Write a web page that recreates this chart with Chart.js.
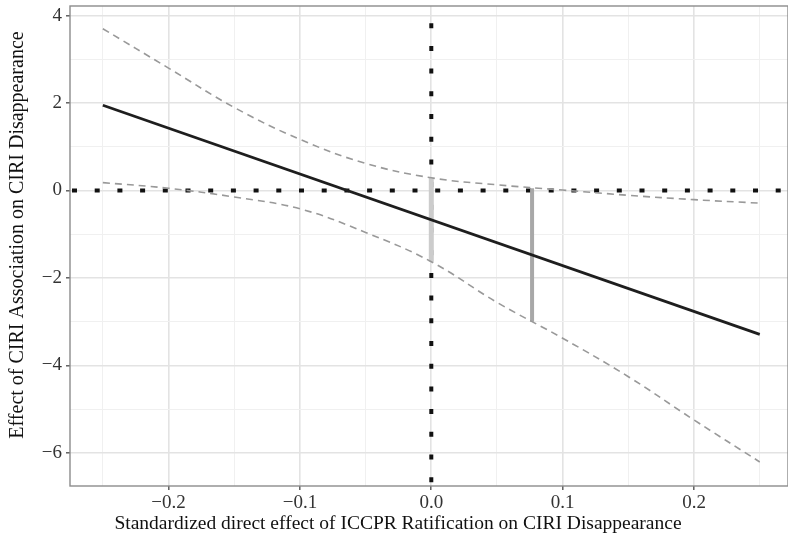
<!DOCTYPE html>
<html>
<head>
<meta charset="utf-8">
<script src="https://cdn.jsdelivr.net/npm/chart.js@4.4.1/dist/chart.umd.min.js"></script>
<style>
  html, body { margin: 0; padding: 0; background: #fff; }
  #wrap { width: 788px; height: 541px; }
</style>
</head>
<body>
<div id="wrap"><canvas id="chart" width="788" height="541"></canvas></div>
<script>
// axis ranges
const xMin = -0.275, xMax = 0.2715;
const yMin = -6.76, yMax = 4.22;

// gridlines (major + minor) and labelled ticks
const xGrid = [-0.25, -0.2, -0.15, -0.1, -0.05, 0, 0.05, 0.1, 0.15, 0.2, 0.25];
const xMajor = [-0.2, -0.1, 0, 0.1, 0.2];
const xMajorLabels = ['\u22120.2', '\u22120.1', '0.0', '0.1', '0.2'];
const yGrid = [-6, -5, -4, -3, -2, -1, 0, 1, 2, 3, 4];
const yMajor = [-6, -4, -2, 0, 2, 4];
const yMajorLabels = ['\u22126', '\u22124', '\u22122', '0', '2', '4'];

// estimated effect (straight line)
const meanX = [-0.25, 0.25];
const meanY = [1.95, -3.29];

// confidence band
const ciX = [-0.25, -0.2, -0.15, -0.1, -0.05, 0, 0.05, 0.1, 0.15, 0.2, 0.25];
const ciUpper = [3.70, 2.80, 1.90, 1.17, 0.62, 0.29, 0.13, 0.01, -0.11, -0.21, -0.29];
const ciLower = [0.18, 0.05, -0.15, -0.42, -0.96, -1.63, -2.56, -3.38, -4.26, -5.25, -6.21];

// vertical gray markers
const seg1X = 0, seg1Y = [0.29, -1.63];
const seg2X = 0.0767, seg2Y = [0.05, -3.0];

const xTitle = 'Standardized direct effect of ICCPR Ratification on CIRI Disappearance';
const yTitle = 'Effect of CIRI Association on CIRI Disappearance';

const serif = '"Liberation Serif", "DejaVu Serif", serif';

function near(a, b) { return Math.abs(a - b) < 1e-9; }
function isMajor(list, v) { return list.some(m => near(m, v)); }
function toPoints(xs, ys) { return xs.map((x, i) => ({ x: x, y: ys[i] })); }

// 패널 테두리와 축 제목
const framePlugin = {
  id: 'frame',
  afterDatasetsDraw(chart) {
    const { ctx, chartArea } = chart;
    ctx.save();
    ctx.strokeStyle = '#8c8c8c';
    ctx.lineWidth = 1.4;
    ctx.strokeRect(chartArea.left, chartArea.top, chartArea.right - chartArea.left, chartArea.bottom - chartArea.top);
    ctx.restore();
  },
  afterDraw(chart) {
    const { ctx } = chart;
    ctx.save();
    ctx.fillStyle = '#111';
    ctx.textAlign = 'center';
    ctx.textBaseline = 'middle';
    ctx.font = '19.5px ' + serif;
    ctx.fillText(xTitle, 398, 524);
    ctx.font = '20px ' + serif;
    ctx.translate(18, 235);
    ctx.rotate(-Math.PI / 2);
    ctx.fillText(yTitle, 0, 0);
    ctx.restore();
  }
};

const ctx = document.getElementById('chart').getContext('2d');
new Chart(ctx, {
  type: 'scatter',
  data: {
    datasets: [
      {
        data: toPoints(meanX, meanY),
        showLine: true,
        borderColor: '#1e1e1e',
        borderWidth: 2.8,
        pointRadius: 0
      },
      {
        data: toPoints(ciX, ciUpper),
        showLine: true,
        borderColor: '#999999',
        borderWidth: 1.6,
        borderDash: [7, 5],
        tension: 0.4,
        pointRadius: 0
      },
      {
        data: toPoints(ciX, ciLower),
        showLine: true,
        borderColor: '#999999',
        borderWidth: 1.6,
        borderDash: [7, 5],
        tension: 0.4,
        pointRadius: 0
      },
      {
        data: seg1Y.map(y => ({ x: seg1X, y: y })),
        showLine: true,
        borderColor: '#cccccc',
        borderWidth: 5,
        pointRadius: 0
      },
      {
        data: seg2Y.map(y => ({ x: seg2X, y: y })),
        showLine: true,
        borderColor: '#a8a8a8',
        borderWidth: 4,
        pointRadius: 0
      },
      {
        // 기준선 y = 0
        data: [{ x: xMin, y: 0 }, { x: xMax, y: 0 }],
        showLine: true,
        borderColor: '#111',
        borderWidth: 4,
        borderDash: [5, 17.7],
        borderDashOffset: -2,
        pointRadius: 0
      },
      {
        // 기준선 x = 0
        data: [{ x: 0, y: yMax }, { x: 0, y: yMin }],
        showLine: true,
        borderColor: '#111',
        borderWidth: 4,
        borderDash: [5, 17.7],
        borderDashOffset: 5.5,
        pointRadius: 0
      }
    ]
  },
  options: {
    responsive: false,
    animation: false,
    layout: { padding: { top: 6, right: 0, left: 0, bottom: 0 } },
    plugins: {
      legend: { display: false },
      tooltip: { enabled: false }
    },
    scales: {
      x: {
        type: 'linear',
        min: xMin,
        max: xMax,
        afterBuildTicks: s => { s.ticks = xGrid.map(v => ({ value: v })); },
        afterFit: s => { s.height = 55; s.paddingLeft = 0; s.paddingRight = 0; },
        border: { display: false },
        grid: {
          color: c => isMajor(xMajor, c.tick.value) ? '#e3e3e3' : '#f0f0f0',
          lineWidth: c => isMajor(xMajor, c.tick.value) ? 1.6 : 1,
          tickColor: c => isMajor(xMajor, c.tick.value) ? '#555' : 'rgba(0,0,0,0)',
          tickLength: 4,
          tickWidth: 1.4
        },
        ticks: {
          autoSkip: false,
          maxRotation: 0,
          padding: 2,
          color: '#333',
          font: { family: serif, size: 19 },
          callback: v => {
            const i = xMajor.findIndex(m => near(m, v));
            return i >= 0 ? xMajorLabels[i] : '';
          }
        }
      },
      y: {
        type: 'linear',
        min: yMin,
        max: yMax,
        afterBuildTicks: s => { s.ticks = yGrid.map(v => ({ value: v })); },
        afterFit: s => { s.width = 70; s.paddingTop = 0; s.paddingBottom = 0; },
        border: { display: false },
        grid: {
          color: c => isMajor(yMajor, c.tick.value) ? '#e3e3e3' : '#f0f0f0',
          lineWidth: c => isMajor(yMajor, c.tick.value) ? 1.6 : 1,
          tickColor: c => isMajor(yMajor, c.tick.value) ? '#555' : 'rgba(0,0,0,0)',
          tickLength: 4,
          tickWidth: 1.4
        },
        ticks: {
          autoSkip: false,
          padding: 4,
          color: '#333',
          font: { family: serif, size: 19 },
          callback: v => {
            const i = yMajor.findIndex(m => near(m, v));
            return i >= 0 ? yMajorLabels[i] : '';
          }
        }
      }
    }
  },
  plugins: [framePlugin]
});
</script>
</body>
</html>
